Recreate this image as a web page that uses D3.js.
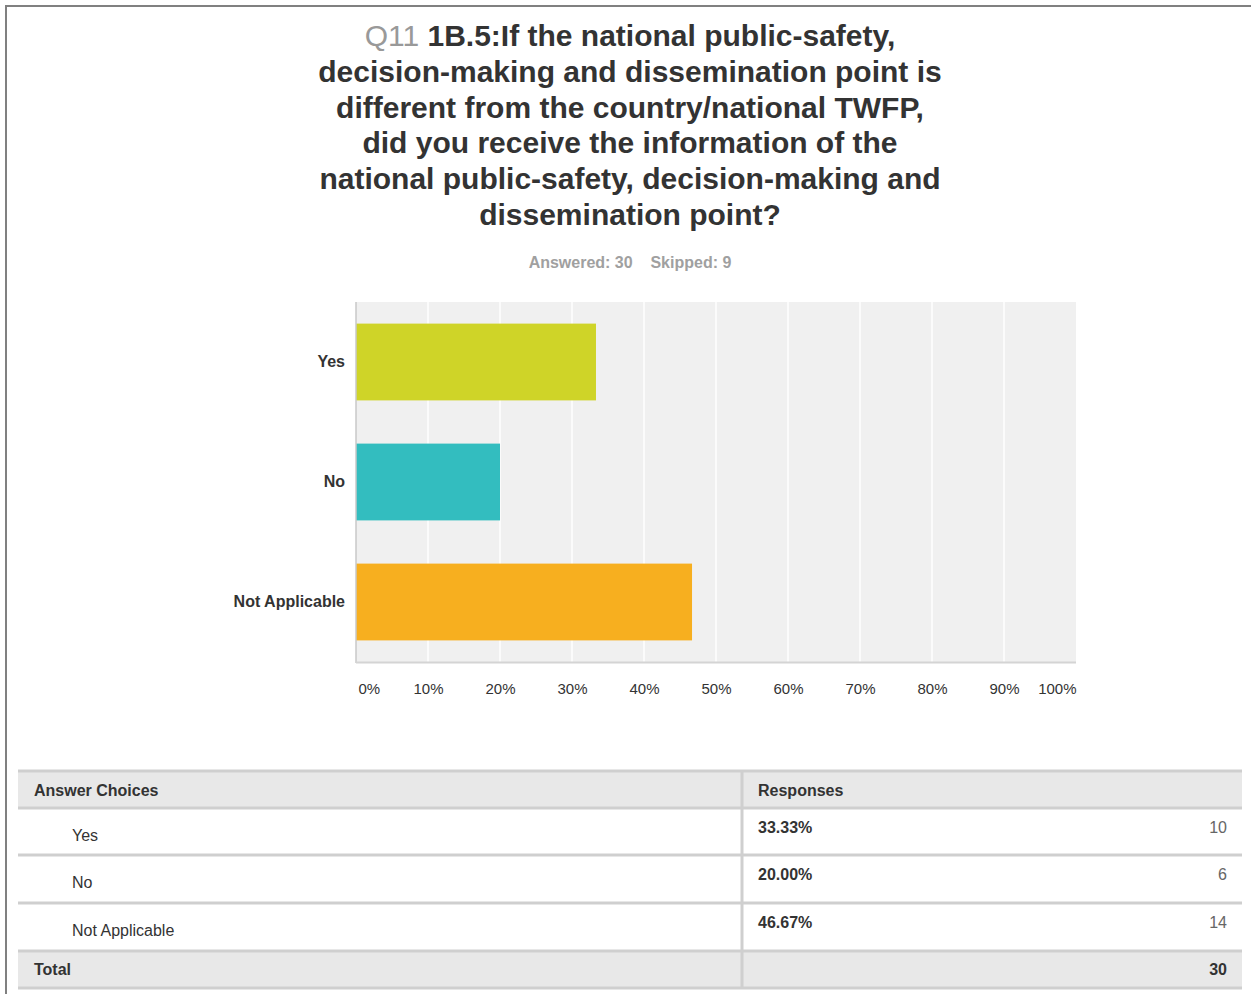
<!DOCTYPE html>
<html>
<head>
<meta charset="utf-8">
<script src="https://cdn.jsdelivr.net/npm/d3@7"></script>
<style>
  html, body { margin: 0; padding: 0; background: #fff; }
  svg text { font-family: "Liberation Sans", Arial, Helvetica, sans-serif; }
</style>
</head>
<body>
<svg id="chart" width="1251" height="994"></svg>
<script>
// ---- Data ----
const categories = ["Yes", "No", "Not Applicable"];
const percents = [33.33, 20.00, 46.67];
const counts = [10, 6, 14];
const colors = ["#cfd428", "#33bdbf", "#f7af1f"];
const tickValues = [0, 10, 20, 30, 40, 50, 60, 70, 80, 90, 100];
const titlePrefix = "Q11";
const titleLines = [
  "1B.5:If the national public-safety,",
  "decision-making and dissemination point is",
  "different from the country/national TWFP,",
  "did you receive the information of the",
  "national public-safety, decision-making and",
  "dissemination point?"
];
const answered = 30, skipped = 9;
const total = 30;

const svg = d3.select("#chart");

// Frame
svg.append("line").attr("x1", 5).attr("x2", 1251).attr("y1", 6).attr("y2", 6)
  .attr("stroke", "#808080").attr("stroke-width", 2);
svg.append("line").attr("x1", 6).attr("x2", 6).attr("y1", 5).attr("y2", 994)
  .attr("stroke", "#808080").attr("stroke-width", 2);

// Title
const cx = 630;
const title = svg.append("g");
titleLines.forEach((l, i) => {
  const t = title.append("text")
    .attr("x", cx).attr("y", 46 + i * 35.8)
    .attr("text-anchor", "middle")
    .attr("font-size", 30).attr("font-weight", "bold").attr("fill", "#333");
  if (i === 0) {
    t.append("tspan").attr("fill", "#999").attr("font-weight", "normal").text(titlePrefix + " ");
  }
  t.append("tspan").text(l);
});

svg.append("text").attr("x", cx).attr("y", 268).attr("text-anchor", "middle")
  .attr("font-size", 16).attr("font-weight", "bold").attr("fill", "#a0a0a0")
  .attr("xml:space", "preserve")
  .text(`Answered: ${answered}    Skipped: ${skipped}`);

// Plot
const plot = { left: 356, right: 1076, top: 302, bottom: 662 };
const x = d3.scaleLinear().domain([0, 100]).range([plot.left, plot.right]);
const y = d3.scaleBand().domain(categories).range([plot.top, plot.bottom])
  .paddingInner(0.36).paddingOuter(0.18);

svg.append("rect").attr("x", plot.left).attr("y", plot.top)
  .attr("width", plot.right - plot.left).attr("height", plot.bottom - plot.top)
  .attr("fill", "#f0f0f0");

svg.append("g").selectAll("line").data(tickValues.slice(1, -1)).join("line")
  .attr("x1", d => x(d)).attr("x2", d => x(d))
  .attr("y1", plot.top).attr("y2", plot.bottom)
  .attr("stroke", "#fff").attr("stroke-width", 1.5);

svg.append("g").selectAll("rect").data(categories).join("rect")
  .attr("x", x(0)).attr("y", d => y(d))
  .attr("width", (d, i) => x(percents[i]) - x(0))
  .attr("height", y.bandwidth())
  .attr("fill", (d, i) => colors[i]);

// Axes lines
svg.append("line").attr("x1", plot.left).attr("x2", plot.left)
  .attr("y1", plot.top).attr("y2", plot.bottom + 1)
  .attr("stroke", "#c8c8c8").attr("stroke-width", 1.5);
svg.append("line").attr("x1", plot.left).attr("x2", plot.right)
  .attr("y1", plot.bottom + 0.5).attr("y2", plot.bottom + 0.5)
  .attr("stroke", "#d4d4d4").attr("stroke-width", 2);

// Y axis labels
const yAxis = d3.axisLeft(y).tickSize(0).tickPadding(11);
const yg = svg.append("g").attr("transform", `translate(${plot.left},0)`).call(yAxis);
yg.select(".domain").remove();
yg.selectAll("text").attr("font-size", 16).attr("font-weight", "bold")
  .attr("fill", "#333").style("font-family", "'Liberation Sans', Arial, sans-serif");

// X axis labels
const xAxis = d3.axisBottom(x).tickValues(tickValues).tickFormat(d => d + "%").tickSize(0).tickPadding(21);
const xg = svg.append("g").attr("transform", `translate(0,${plot.bottom})`).call(xAxis);
xg.select(".domain").remove();
xg.selectAll("text").attr("font-size", 15).attr("fill", "#333")
  .style("font-family", "'Liberation Sans', Arial, sans-serif")
  .attr("text-anchor", d => d === 0 ? "start" : (d === 100 ? "end" : "middle"))
  .attr("dx", d => d === 0 ? 2 : 0);

// Table
const tbl = { left: 18, right: 1242, split: 742 };
const rowsY = [771, 808, 855, 903, 951, 988];
const bg = "#e8e8e8", lineC = "#cfcfcf";
svg.append("rect").attr("x", tbl.left).attr("y", rowsY[0]).attr("width", tbl.right - tbl.left)
  .attr("height", rowsY[1] - rowsY[0]).attr("fill", bg);
svg.append("rect").attr("x", tbl.left).attr("y", rowsY[4]).attr("width", tbl.right - tbl.left)
  .attr("height", rowsY[5] - rowsY[4]).attr("fill", bg);
svg.append("g").selectAll("line").data(rowsY).join("line")
  .attr("x1", tbl.left).attr("x2", tbl.right)
  .attr("y1", d => d).attr("y2", d => d)
  .attr("stroke", lineC).attr("stroke-width", 3);
svg.append("line").attr("x1", tbl.split).attr("x2", tbl.split)
  .attr("y1", rowsY[0]).attr("y2", rowsY[5])
  .attr("stroke", lineC).attr("stroke-width", 3);

function txt(xp, yp, s, opts = {}) {
  return svg.append("text").attr("x", xp).attr("y", yp).text(s)
    .attr("font-size", opts.size || 16)
    .attr("font-weight", opts.bold ? "bold" : "normal")
    .attr("fill", opts.fill || "#333")
    .attr("text-anchor", opts.anchor || "start");
}
txt(34, 796, "Answer Choices", { bold: true });
txt(758, 796, "Responses", { bold: true });
categories.forEach((c, i) => {
  const top = rowsY[i + 1];
  txt(72, top + 33, c, {});
  txt(758, top + 25, percents[i].toFixed(2) + "%", { bold: true });
  txt(1227, top + 25, String(counts[i]), { fill: "#666", anchor: "end" });
});
txt(34, 975, "Total", { bold: true });
txt(1227, 975, String(total), { bold: true, anchor: "end" });
</script>
</body>
</html>
